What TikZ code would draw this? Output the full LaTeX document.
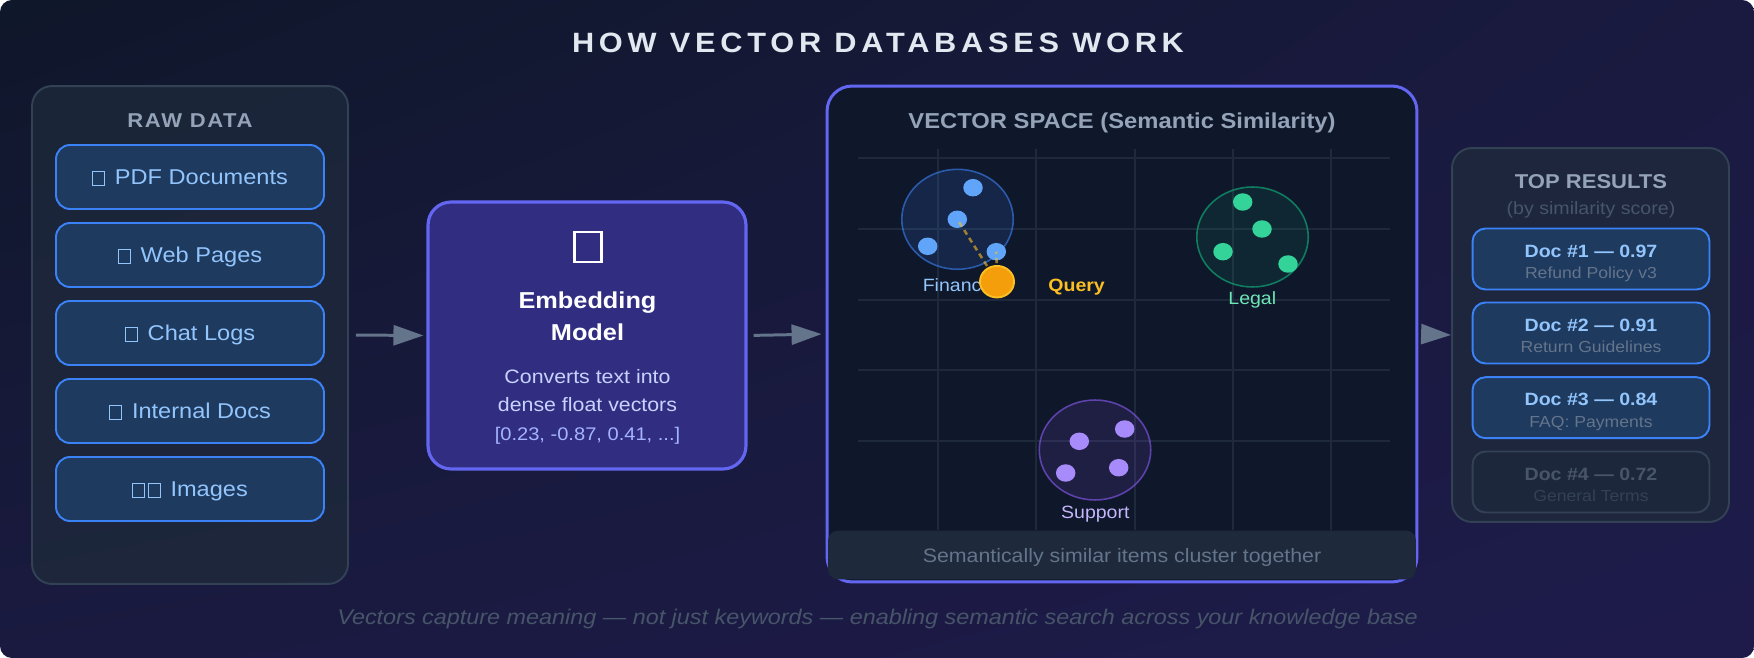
\documentclass[tikz,border=0pt]{standalone}
\usepackage{fontspec}
\setmainfont{Liberation Sans}[FakeStretch=1.1]
\usetikzlibrary{arrows.meta,shapes.geometric,shadings}

\definecolor{bgA}{HTML}{0F172A}
\definecolor{bgB}{HTML}{1A1A40}
\definecolor{bgC}{HTML}{1E1B4B}
\definecolor{titlecol}{HTML}{E2E8F0}
\definecolor{panelfill}{HTML}{1E293B}
\definecolor{panelline}{HTML}{334155}
\definecolor{slate4}{HTML}{94A3B8}
\definecolor{slate5}{HTML}{64748B}
\definecolor{slate6}{HTML}{475569}
\definecolor{itemfill}{HTML}{1E3A5F}
\definecolor{itemline}{HTML}{3B82F6}
\definecolor{itemtext}{HTML}{93C5FD}
\definecolor{embfill}{HTML}{312E81}
\definecolor{indigo}{HTML}{6366F1}
\definecolor{embtext}{HTML}{C7D2FE}
\definecolor{embvec}{HTML}{A5B4FC}
\definecolor{spacefill}{HTML}{0F172A}
\definecolor{gridcol}{HTML}{1E293B}
\definecolor{finblue}{HTML}{3B82F6}
\definecolor{findot}{HTML}{60A5FA}
\definecolor{legal}{HTML}{10B981}
\definecolor{legaldot}{HTML}{34D399}
\definecolor{legaltext}{HTML}{6EE7B7}
\definecolor{supp}{HTML}{8B5CF6}
\definecolor{suppdot}{HTML}{A78BFA}
\definecolor{supptext}{HTML}{C4B5FD}
\definecolor{qfill}{HTML}{F59E0B}
\definecolor{qline}{HTML}{FBBF24}

% font sizes (1px = 0.569pt)
\newcommand{\titlefont}{\fontsize{15.9}{19}\selectfont\bfseries\addfontfeature{LetterSpace=17}}
\newcommand{\headfont}{\fontsize{11.4}{14}\selectfont\bfseries}
\newcommand{\spacehead}{\fontsize{12.3}{14}\selectfont\bfseries}
\newcommand{\itemfont}{\fontsize{12.2}{14}\selectfont}
\newcommand{\embhead}{\fontsize{13.1}{16}\selectfont\bfseries}
\newcommand{\embfont}{\fontsize{11.04}{13}\selectfont}
\newcommand{\vecfont}{\fontsize{10.4}{12}\selectfont}
\newcommand{\labelfont}{\fontsize{10.1}{12}\selectfont}
\newcommand{\docfont}{\fontsize{10.13}{12}\selectfont\bfseries}
\newcommand{\docsub}{\fontsize{9.1}{11}\selectfont}
\newcommand{\capfont}{\fontsize{11.04}{13}\selectfont}
\newcommand{\footfont}{\fontsize{12.1}{14}\selectfont\itshape}
% missing-glyph box, as the picture prints the icons
\newcommand{\tofu}{{\setlength{\fboxsep}{0pt}\setlength{\fboxrule}{0.05em}\fbox{\rule{0pt}{0.58em}\hspace{0.52em}}}}

\begin{document}
\begin{tikzpicture}[x=0.02cm, y=-0.02cm,
    % #1 = cap height of the node font
    txt/.style={inner sep=0pt, text height=#1, text depth=0pt},
    panel/.style={draw=panelline, line width=1.1pt, fill=panelfill, fill opacity=0.8, rounded corners=0.4cm},
    item/.style={txt=8.74pt, draw=itemline, line width=1.1pt, fill=itemfill, rounded corners=0.28cm,
      minimum width=5.36cm, minimum height=1.28cm, text=itemtext, font=\itemfont},
    embbox/.style={draw=indigo, line width=1.8pt, fill=embfill, rounded corners=0.46cm,
      minimum width=6.36cm, minimum height=5.34cm},
    spacebox/.style={draw=indigo, line width=1.7pt, fill=spacefill, rounded corners=0.5cm,
      minimum width=11.8cm, minimum height=9.92cm},
    gridln/.style={draw=gridcol, line width=0.8pt},
    cluster/.style={ellipse, inner sep=0pt, minimum width=2.23cm, minimum height=2cm,
      line width=0.9pt, fill opacity=0.15, draw opacity=0.6},
    dot/.style={ellipse, inner sep=0pt, minimum width=0.39cm, minimum height=0.35cm},
    qdash/.style={draw=qline, line width=1.4pt, dash pattern=on 3pt off 2.3pt, draw opacity=0.6},
    flow/.style={draw=slate5, line width=1.7pt, -{Triangle[length=0.6cm, width=0.4cm]}},
    hit/.style={draw=itemline, line width=1.1pt, fill=itemfill, rounded corners=0.26cm,
      minimum width=4.74cm, minimum height=1.22cm},
    hitdim/.style={draw=panelline, line width=1.1pt, fill=panelfill, fill opacity=0.5,
      rounded corners=0.26cm, minimum width=4.74cm, minimum height=1.22cm}]

  % Background
  \useasboundingbox (0,0) rectangle (1754,658);
  \fill[white] (0,0) rectangle (1754,658);
  \shade[rounded corners=0.24cm, upper left=bgA, upper right=bgB, lower left=bgB, lower right=bgC]
    (0,0) rectangle (1754,658);

  % Title
  \node[txt=11.38pt, font=\titlefont, text=titlecol] (title) at (878,42.5) {HOW VECTOR DATABASES WORK};

  % Raw data panel
  % #1=name, #2=y, #3=text
  \newcommand{\rawitem}[3]{%
    \node[item] (#1) at (190,#2) {#3};
  }
  \node[panel, minimum width=6.32cm, minimum height=9.96cm] (raw) at (190,335) {};
  \node[txt=8.16pt, font=\headfont\addfontfeature{LetterSpace=8}, text=slate4] (rawtitle) at (190,120.3) {RAW DATA};
  \rawitem{pdf}{177}{\tofu\hspace{0.45em}PDF Documents}
  \rawitem{web}{255}{\tofu\hspace{0.45em}Web Pages}
  \rawitem{chat}{333}{\tofu\hspace{0.45em}Chat Logs}
  \rawitem{docs}{411}{\tofu\hspace{0.45em}Internal Docs}
  \rawitem{img}{489}{\tofu\hspace{0.1em}\tofu\hspace{0.45em}Images}

  % Embedding model
  \node[embbox] (emb) at (587,335.5) {};
  \node[inner sep=0pt, font=\fontsize{27.3}{30}\selectfont, text=white] (embicon) at (588,247) {\tofu};
  \node[txt=9.38pt, font=\embhead, text=white] (embtitle) at (587.5,300.7) {Embedding};
  \node[txt=9.38pt, font=\embhead, text=white] (embtitle2) at (587.5,332.7) {Model};
  \node[txt=7.9pt, font=\embfont, text=embtext] (embdesc) at (587.5,376.5) {Converts text into};
  \node[txt=7.9pt, font=\embfont, text=embtext] (embdesc2) at (587.5,404.5) {dense float vectors};
  \node[txt=7.45pt, font=\vecfont, text=embvec] (embvec) at (587.5,434) {[0.23, -0.87, 0.41, ...]};

  % Vector space
  \node[spacebox] (space) at (1122,334) {};
  \foreach \y in {158,229,300,370,441}
    \draw[gridln] (858,\y) -- (1390,\y);
  \foreach \x in {938,1036,1135,1233,1331}
    \draw[gridln] (\x,149) -- (\x,530);
  \node[txt=8.8pt, font=\spacehead, text=slate4] (spacetitle) at (1122,120.3) {VECTOR SPACE (Semantic Similarity)};

  % Finance cluster
  \node[cluster, draw=finblue, fill=finblue] (fin) at (957.5,219.3) {};
  \node[dot, fill=findot] (fin1) at (973,187.7) {};
  \node[dot, fill=findot] (fin2) at (957.3,219.3) {};
  \node[dot, fill=findot] (fin3) at (927.7,246.3) {};
  \node[dot, fill=findot] (fin4) at (996.3,251.7) {};
  \node[txt=7.23pt, font=\labelfont, text=itemtext] (finlabel) at (957.5,285) {Finance};

  % Legal cluster
  \node[cluster, draw=legal, fill=legal, fill opacity=0.1] (leg) at (1252.5,237) {};
  \node[dot, fill=legaldot] (leg1) at (1242.7,202) {};
  \node[dot, fill=legaldot] (leg2) at (1262,229) {};
  \node[dot, fill=legaldot] (leg3) at (1223,251.7) {};
  \node[dot, fill=legaldot] (leg4) at (1288,264) {};
  \node[txt=7.23pt, font=\labelfont, text=legaltext] (leglabel) at (1252.3,298.3) {Legal};

  % Support cluster
  \node[cluster, draw=supp, fill=supp, fill opacity=0.13] (sup) at (1095,450) {};
  \node[dot, fill=suppdot] (sup1) at (1079.3,441.3) {};
  \node[dot, fill=suppdot] (sup2) at (1124.7,429) {};
  \node[dot, fill=suppdot] (sup3) at (1065.7,473) {};
  \node[dot, fill=suppdot] (sup4) at (1118.7,467.7) {};
  \node[txt=7.23pt, font=\labelfont, text=supptext] (suplabel) at (1095.3,511.7) {Support};

  % Query point and its nearest neighbours
  \coordinate (qc) at (997,281.7);
  \draw[qdash] (qc) -- (fin2.center);
  \draw[qdash] (qc) -- (fin4.center);
  \node[ellipse, inner sep=0pt, fill=qfill, draw=qline, line width=1.1pt,
    minimum width=0.68cm, minimum height=0.63cm] (query) at (qc) {};
  \node[txt=7.23pt, font=\labelfont\bfseries, text=qline] (querylabel) at (1076.6,285) {Query};

  % Caption bar
  \node[fill=panelfill, rounded corners=0.2cm, minimum width=11.76cm, minimum height=0.98cm] (capbar) at (1122,555) {};
  \node[txt=7.9pt, font=\capfont, text=slate5] (captext) at (1122,555.5) {Semantically similar items cluster together};

  % Top results panel
  % #1=name, #2=y, #3=box style, #4=title, #5=subtitle, #6/#7=text colours
  \newcommand{\hitbox}[7]{%
    \node[#3] (#1) at (1591,#2) {};
    \node[txt=7.25pt, font=\docfont, text=#6] (#1-t) at (1591,{#2-8.3}) {#4};
    \node[txt=6.52pt, font=\docsub, text=#7] (#1-s) at (1591,{#2+13.8}) {#5};
  }
  \node[panel, minimum width=5.54cm, minimum height=7.48cm] (results) at (1590.5,335) {};
  \node[txt=8.16pt, font=\headfont, text=slate4] (restitle) at (1591,181.3) {TOP RESULTS};
  \node[txt=7.25pt, font=\docfont\mdseries, text=slate6] (ressub) at (1591,207.7) {(by similarity score)};
  \hitbox{hit1}{259}{hit}{Doc \#1 — 0.97}{Refund Policy v3}{itemtext}{slate5}
  \hitbox{hit2}{333}{hit}{Doc \#2 — 0.91}{Return Guidelines}{itemtext}{slate5}
  \hitbox{hit3}{407.7}{hit}{Doc \#3 — 0.84}{FAQ: Payments}{itemtext}{slate5}
  \hitbox{hit4}{482}{hitdim}{Doc \#4 — 0.72}{General Terms}{slate6}{panelline}

  % Flow arrows
  \draw[flow, shorten <=0.14cm, shorten >=0.06cm] (raw.east) -- (emb.west);
  \draw[flow, shorten <=0.12cm, shorten >=0.08cm] (emb.east) -- (space.west);
  \draw[flow, shorten <=0.08cm] (space.east) -- (results.west);

  % Footer
  \node[txt=8.66pt, font=\footfont, text=slate6] (footer) at (877.6,616.8)
    {Vectors capture meaning — not just keywords — enabling semantic search across your knowledge base};
\end{tikzpicture}
\end{document}
